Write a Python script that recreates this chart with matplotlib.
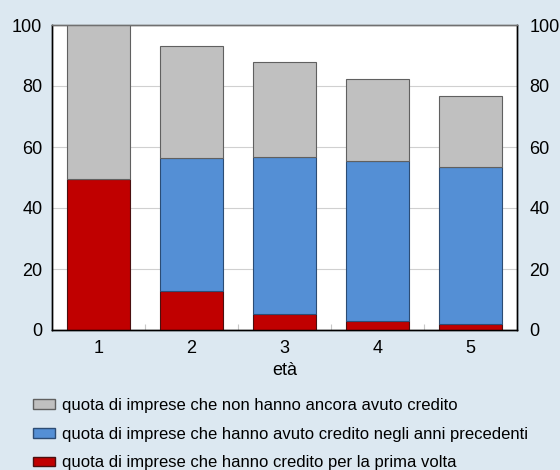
import matplotlib
matplotlib.use("Agg")
import matplotlib.pyplot as plt
from matplotlib.patches import Patch
import numpy as np

plt.rcParams['font.family'] = ['Liberation Sans', 'DejaVu Sans']

categories = ['1', '2', '3', '4', '5']
prima_volta = [49.4, 12.7, 5.2, 3.1, 1.9]
anni_precedenti = [0.0, 43.6, 51.4, 52.3, 51.4]
non_ancora = [50.6, 36.8, 31.2, 26.8, 23.3]
yticks = [0, 20, 40, 60, 80, 100]
labels = ['quota di imprese che non hanno ancora avuto credito',
          'quota di imprese che hanno avuto credito negli anni precedenti',
          'quota di imprese che hanno credito per la prima volta']

bg = '#dce8f1'
c_gray, c_blue, c_red = '#c0c0c0', '#548fd5', '#c00000'
fs = 13

fig = plt.figure(figsize=(5.6, 4.7), dpi=100, facecolor=bg)
ax = fig.add_axes([52/560, 1-330/470, 465/560, 305/470])
ax.set_facecolor('white')

x = np.arange(1, len(categories) + 1)
w = 0.667
red = np.array(prima_volta)
blue = np.array(anni_precedenti)
gray = np.array(non_ancora)
ax.bar(x, red, w, color=c_red, edgecolor='#4a1010', linewidth=0.8, zorder=3)
ax.bar(x, blue, w, bottom=red, color=c_blue, edgecolor='#2c4c74', linewidth=0.8, zorder=3)
ax.bar(x, gray, w, bottom=red + blue, color=c_gray, edgecolor='#606060', linewidth=0.8, zorder=3)

ax.set_xlim(0.5, len(categories) + 0.5)
ax.set_ylim(0, 100)
ax.set_yticks(yticks)
ax.set_xticks(x)
ax.set_xticklabels(categories)
ax.set_xticks(np.arange(1.5, len(categories), 1), minor=True)
ax.tick_params(axis='x', which='major', length=0, labelsize=fs, pad=7)
ax.tick_params(axis='x', which='minor', length=4, direction='in', color='#c8c8c8', width=0.8)
ax.tick_params(axis='y', length=0, labelsize=fs, pad=7)
ax.yaxis.grid(True, color='#d0d0d0', linewidth=0.8, zorder=0)
ax.set_axisbelow(True)

ax2 = ax.twinx()
ax2.set_ylim(0, 100)
ax2.set_yticks(yticks)
ax2.tick_params(axis='y', length=0, labelsize=fs, pad=9)

for a in (ax, ax2):
    a.spines['left'].set_color('black')
    a.spines['bottom'].set_color('black')
    a.spines['right'].set_color('black')
    a.spines['top'].set_color('#707070')
    for s in a.spines.values():
        s.set_linewidth(1.0)

ax.set_xlabel('età', fontsize=fs, labelpad=4)

handles = [Patch(facecolor=c_gray, edgecolor='#606060'),
           Patch(facecolor=c_blue, edgecolor='#2c4c74'),
           Patch(facecolor=c_red, edgecolor='#4a1010')]
fig.legend(handles, labels, loc='upper left', bbox_to_anchor=(33/560, 1-398/470),
           frameon=False, fontsize=12, handlelength=1.3, handleheight=0.5,
           labelspacing=0.82, handletextpad=0.45, borderpad=0, borderaxespad=0)

fig.savefig('out.png', dpi=100, facecolor=bg)
